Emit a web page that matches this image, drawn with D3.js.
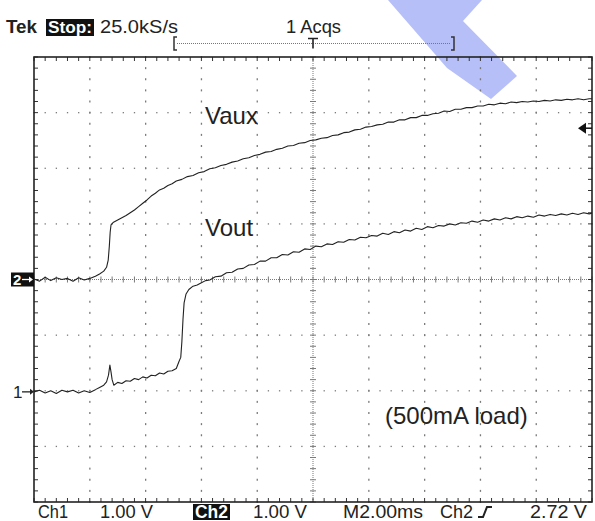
<!DOCTYPE html>
<html><head><meta charset="utf-8">
<script src="https://cdn.jsdelivr.net/npm/d3@7/dist/d3.min.js"></script>
<style>html,body{margin:0;padding:0;background:#fff;}svg{display:block;font-family:"Liberation Sans",Arial,sans-serif;}</style>
</head><body>
<script>
// ---- data (time in ms relative to trigger, volts relative to channel ground) ----
const vauxTime = [-10,-9.8,-9.6,-9.4,-9.2,-9.0,-8.8,-8.6,-8.4,-8.2,-8.0,-7.8,-7.65,-7.5,-7.4,-7.34,-7.3,-7.27,-7.24,-7.15,-7.0,-6.85,-6.7,-6.55,-6.4,-6.25,-6.1,-5.95,-5.8,-5.65,-5.5,-5.35,-5.2,-5.05,-4.9,-4.7,-4.5,-4.3,-4.1,-3.9,-3.7,-3.5,-3.3,-3.1,-2.9,-2.7,-2.5,-2.3,-2.1,-1.9,-1.7,-1.5,-1.3,-1.1,-0.9,-0.7,-0.5,-0.3,-0.1,0.1,0.3,0.5,0.7,0.9,1.1,1.3,1.5,1.7,1.9,2.1,2.3,2.5,2.7,2.9,3.1,3.3,3.5,3.7,3.9,4.1,4.3,4.5,4.7,4.9,5.1,5.3,5.5,5.7,5.9,6.1,6.3,6.5,6.7,6.9,7.1,7.3,7.5,7.7,7.9,8.1,8.3,8.5,8.7,8.9,9.1,9.3,9.5,9.7,9.9,10];
const vauxVolts = [0.01,-0.03,0.04,-0.02,0.03,0.00,0.02,-0.03,0.03,-0.01,0.02,0.06,0.10,0.15,0.22,0.35,0.60,0.85,0.98,1.03,1.07,1.11,1.15,1.20,1.25,1.31,1.37,1.43,1.50,1.55,1.61,1.64,1.69,1.72,1.77,1.80,1.85,1.87,1.92,1.94,1.99,2.01,2.05,2.07,2.11,2.13,2.17,2.19,2.23,2.25,2.29,2.30,2.34,2.36,2.40,2.41,2.45,2.46,2.50,2.51,2.54,2.55,2.59,2.60,2.64,2.65,2.69,2.70,2.74,2.75,2.78,2.79,2.83,2.83,2.87,2.87,2.91,2.91,2.95,2.95,2.98,2.99,3.03,3.02,3.06,3.06,3.09,3.09,3.12,3.12,3.15,3.14,3.17,3.16,3.19,3.18,3.20,3.19,3.21,3.20,3.22,3.21,3.23,3.22,3.24,3.23,3.25,3.23,3.25,3.25];
const voutTime = [-10,-9.8,-9.6,-9.4,-9.2,-9.0,-8.8,-8.6,-8.4,-8.2,-8.0,-7.8,-7.65,-7.5,-7.4,-7.33,-7.28,-7.24,-7.2,-7.14,-7.0,-6.85,-6.7,-6.55,-6.4,-6.25,-6.1,-5.95,-5.8,-5.65,-5.5,-5.35,-5.2,-5.05,-4.9,-4.8,-4.74,-4.7,-4.66,-4.62,-4.55,-4.45,-4.3,-4.15,-4.0,-3.85,-3.7,-3.5,-3.3,-3.1,-2.9,-2.7,-2.5,-2.3,-2.1,-1.9,-1.7,-1.5,-1.3,-1.1,-0.9,-0.7,-0.5,-0.3,-0.1,0.1,0.3,0.5,0.7,0.9,1.1,1.3,1.5,1.7,1.9,2.1,2.3,2.5,2.7,2.9,3.1,3.3,3.5,3.7,3.9,4.1,4.3,4.5,4.7,4.9,5.1,5.3,5.5,5.7,5.9,6.1,6.3,6.5,6.7,6.9,7.1,7.3,7.5,7.7,7.9,8.1,8.3,8.5,8.7,8.9,9.1,9.3,9.5,9.7,9.9,10];
const voutVolts = [0.00,0.03,-0.02,0.02,-0.03,0.03,0.00,0.03,-0.02,0.02,-0.01,0.04,0.08,0.12,0.18,0.30,0.48,0.36,0.22,0.12,0.17,0.15,0.20,0.19,0.24,0.22,0.27,0.25,0.30,0.29,0.34,0.32,0.37,0.38,0.42,0.55,0.62,0.90,1.30,1.60,1.76,1.84,1.90,1.92,1.96,2.00,2.01,2.07,2.08,2.14,2.15,2.21,2.22,2.28,2.29,2.35,2.35,2.41,2.41,2.47,2.46,2.52,2.51,2.57,2.56,2.62,2.61,2.66,2.65,2.70,2.69,2.74,2.73,2.78,2.77,2.81,2.80,2.85,2.83,2.88,2.86,2.91,2.89,2.94,2.92,2.97,2.95,2.99,2.98,3.02,3.00,3.04,3.03,3.07,3.05,3.09,3.07,3.11,3.09,3.13,3.11,3.15,3.13,3.16,3.14,3.18,3.16,3.19,3.17,3.20,3.18,3.21,3.19,3.22,3.20,3.21];
const traceLabels = ["Vaux","Vout"];
const note = "(500mA load)";
const headerLabels = ["Tek","Stop:","25.0kS/s","1 Acqs"];
const bottomLabels = ["Ch1","1.00 V","Ch2","1.00 V","M2.00ms","Ch2","2.72 V"];
const ch1Position = -2.02;   // divisions
const ch2Position = 0;       // divisions
const voltsPerDiv = 1.0;
const triggerLevel = 2.72;   // V on Ch2

const W = 595, H = 521;
const L = 34, R = 592, T = 57, B = 502;
const svg = d3.select("body").append("svg").attr("width", W).attr("height", H);

const x = d3.scaleLinear().domain([-10, 10]).range([L, R]);
const yDiv = d3.scaleLinear().domain([-4, 4]).range([B, T]);
const y1 = v => yDiv(ch1Position + v / voltsPerDiv);
const y2 = v => yDiv(ch2Position + v / voltsPerDiv);

// watermark
svg.append("polygon")
  .attr("points", [[388,0],[482,0],[463,21],[517,76],[491,99],[447,68]].map(p => p.join(",")).join(" "))
  .attr("fill", "#b6bff8");

const gridColor = "#7a7a7a";
const g = svg.append("g");
const minorT = d3.range(-10, 10.001, 0.4);
const minorD = d3.range(-4, 4.001, 0.2);
// major grid dots
d3.range(-8, 8.001, 2).forEach(t => {
  if (Math.abs(t) < 1e-9) return;
  g.selectAll(null).data(minorD).enter().append("rect")
    .attr("x", x(t) - 0.6).attr("y", d => yDiv(d) - 1).attr("width", 1.3).attr("height", 2).attr("fill", gridColor);
});
d3.range(-3, 3.001, 1).forEach(dv => {
  if (Math.abs(dv) < 1e-9) return;
  g.selectAll(null).data(minorT).enter().append("rect")
    .attr("x", d => x(d) - 0.6).attr("y", yDiv(dv) - 0.6).attr("width", 1.3).attr("height", 1.3).attr("fill", gridColor);
});
// centre lines
g.append("line").attr("x1", L).attr("x2", R).attr("y1", yDiv(0)).attr("y2", yDiv(0))
  .attr("stroke", gridColor).attr("stroke-width", 1).attr("stroke-dasharray", "1,1");
g.append("line").attr("x1", x(0)).attr("x2", x(0)).attr("y1", T).attr("y2", B)
  .attr("stroke", gridColor).attr("stroke-width", 1).attr("stroke-dasharray", "1,1");
g.selectAll(null).data(minorT).enter().append("line")
  .attr("x1", d => x(d)).attr("x2", d => x(d)).attr("y1", yDiv(0) - 3).attr("y2", yDiv(0) + 3)
  .attr("stroke", gridColor).attr("stroke-width", 1);
g.selectAll(null).data(minorD).enter().append("line")
  .attr("y1", d => yDiv(d)).attr("y2", d => yDiv(d)).attr("x1", x(0) - 3).attr("x2", x(0) + 3)
  .attr("stroke", gridColor).attr("stroke-width", 1);
// edge ticks
g.selectAll(null).data(minorT).enter().append("line")
  .attr("x1", d => x(d)).attr("x2", d => x(d)).attr("y1", T).attr("y2", T + 4)
  .attr("stroke", "#333").attr("stroke-width", 1);
g.selectAll(null).data(minorT).enter().append("line")
  .attr("x1", d => x(d)).attr("x2", d => x(d)).attr("y1", B).attr("y2", B - 4)
  .attr("stroke", "#333").attr("stroke-width", 1);
g.selectAll(null).data(minorD).enter().append("line")
  .attr("y1", d => yDiv(d)).attr("y2", d => yDiv(d)).attr("x1", L).attr("x2", L + 4)
  .attr("stroke", "#333").attr("stroke-width", 1);
g.selectAll(null).data(minorD).enter().append("line")
  .attr("y1", d => yDiv(d)).attr("y2", d => yDiv(d)).attr("x1", R).attr("x2", R - 4)
  .attr("stroke", "#333").attr("stroke-width", 1);
// border
svg.append("rect").attr("x", L).attr("y", T).attr("width", R - L).attr("height", B - T)
  .attr("fill", "none").attr("stroke", "#222").attr("stroke-width", 1.6);

// traces
const line = (yf) => d3.line().x(d => x(d[0])).y(d => yf(d[1]));
svg.append("path").datum(d3.zip(vauxTime, vauxVolts)).attr("d", line(y2))
  .attr("fill", "none").attr("stroke", "#222").attr("stroke-width", 1.1).attr("stroke-linejoin", "round");
svg.append("path").datum(d3.zip(voutTime, voutVolts)).attr("d", line(y1))
  .attr("fill", "none").attr("stroke", "#222").attr("stroke-width", 1.1).attr("stroke-linejoin", "round");

// trace labels
svg.append("text").attr("x", 205).attr("y", 124).attr("font-size", 24).attr("fill", "#222").text(traceLabels[0]);
svg.append("text").attr("x", 205).attr("y", 236).attr("font-size", 24).attr("fill", "#222").text(traceLabels[1]);
svg.append("text").attr("x", 385).attr("y", 424).attr("font-size", 24).attr("fill", "#222").text(note);

// channel ground markers
const c2y = y2(0);
svg.append("rect").attr("x", 11).attr("y", c2y - 7).attr("width", 23).attr("height", 14).attr("fill", "#111");
svg.append("text").attr("x", 13).attr("y", c2y + 5.5).attr("font-size", 15).attr("font-weight", "bold").attr("fill", "#fff").text("2");
svg.append("line").attr("x1", 22).attr("x2", 31).attr("y1", c2y).attr("y2", c2y).attr("stroke", "#fff").attr("stroke-width", 1.3);
svg.append("path").attr("d", `M33,${c2y} l-4,-3 v6 z`).attr("fill", "#fff");
const c1y = y1(0);
svg.append("text").attr("x", 13).attr("y", c1y + 6).attr("font-size", 17).attr("fill", "#222").text("1");
svg.append("line").attr("x1", 22).attr("x2", 31).attr("y1", c1y).attr("y2", c1y).attr("stroke", "#222").attr("stroke-width", 1.3);
svg.append("path").attr("d", `M34,${c1y} l-4,-3 v6 z`).attr("fill", "#222");

// trigger level marker
const ty = y2(triggerLevel);
svg.append("path").attr("d", `M578,${ty} L586,${ty - 5.5} L586,${ty + 5.5} Z`).attr("fill", "#111");
svg.append("line").attr("x1", 585).attr("x2", R).attr("y1", ty).attr("y2", ty).attr("stroke", "#111").attr("stroke-width", 1.5);

// header
const txt = (sel, xx, yy, s, len, opts = {}) => {
  const t = sel.append("text").attr("x", xx).attr("y", yy).text(s)
    .attr("textLength", len).attr("lengthAdjust", "spacingAndGlyphs");
  Object.entries(opts).forEach(([k, v]) => t.attr(k, v));
  return t;
};
const hdr = svg.append("g").attr("font-size", 18).attr("fill", "#222");
txt(hdr, 6, 33, headerLabels[0], 31, {"font-weight": "bold"});
hdr.append("rect").attr("x", 46).attr("y", 19).attr("width", 48).attr("height", 17).attr("fill", "#111");
txt(hdr, 48, 33, headerLabels[1], 44, {"font-weight": "bold", "fill": "#fff", "font-size": 17});
txt(hdr, 100, 33, headerLabels[2], 78);
txt(hdr, 286, 33, headerLabels[3], 55);
// record bar
svg.append("path").attr("d", "M177,37 h-3 v13 h3").attr("fill", "none").attr("stroke", "#333").attr("stroke-width", 1.5);
svg.append("path").attr("d", "M451,37 h3 v13 h-3").attr("fill", "none").attr("stroke", "#333").attr("stroke-width", 1.5);
svg.append("line").attr("x1", 177).attr("x2", 451).attr("y1", 43.5).attr("y2", 43.5)
  .attr("stroke", "#777").attr("stroke-width", 1).attr("stroke-dasharray", "1,1");
svg.append("path").attr("d", `M${x(0) - 5},38.5 h10 M${x(0)},38.5 v10`).attr("fill", "none").attr("stroke", "#222").attr("stroke-width", 1.6);

// footer
const ft = svg.append("g").attr("font-size", 18).attr("fill", "#222");
txt(ft, 38, 518, bottomLabels[0], 30);
txt(ft, 100, 518, bottomLabels[1], 53);
ft.append("rect").attr("x", 193).attr("y", 504).attr("width", 37).attr("height", 16).attr("fill", "#111");
txt(ft, 195, 518, bottomLabels[2], 33, {"fill": "#fff", "font-weight": "bold"});
txt(ft, 253, 518, bottomLabels[3], 54);
txt(ft, 343, 518, bottomLabels[4], 80);
txt(ft, 440, 518, bottomLabels[5], 33);
txt(ft, 530, 518, bottomLabels[6], 57);
svg.append("path").attr("d", "M478,517 H483 L487,507 H492").attr("fill", "none").attr("stroke", "#222").attr("stroke-width", 2);
</script>
</body></html>
